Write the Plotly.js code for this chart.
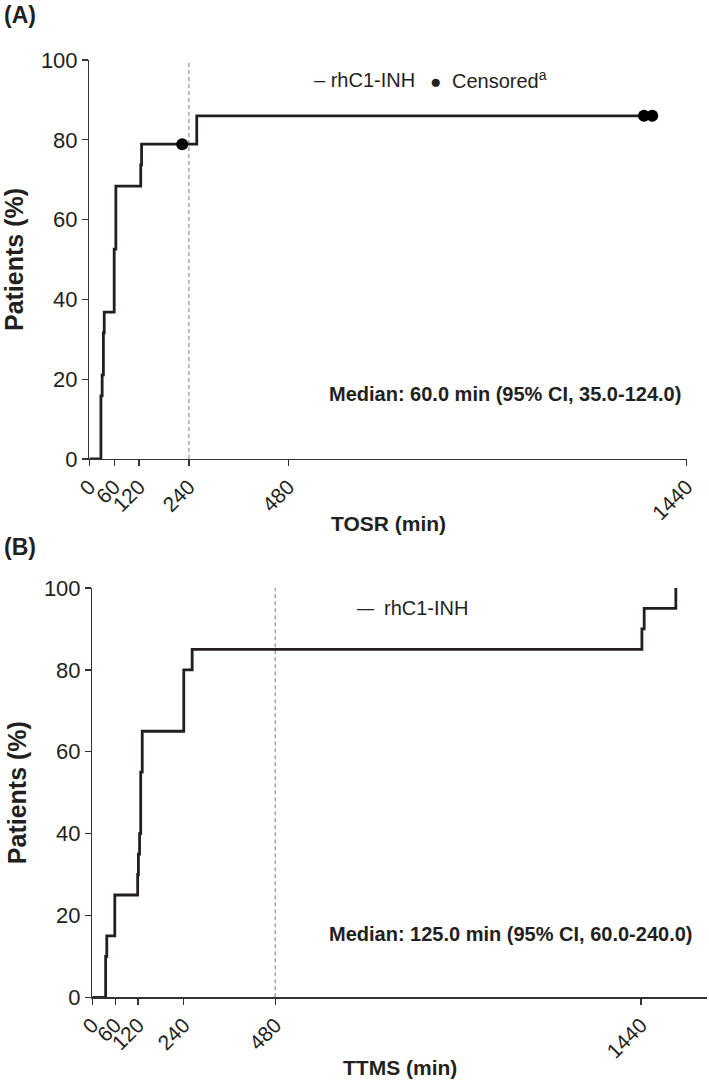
<!DOCTYPE html>
<html><head><meta charset="utf-8">
<script src="https://cdn.plot.ly/plotly-3.0.1.min.js"></script>
<style>html,body{margin:0;padding:0;background:#fff}</style>
</head><body><div id="chart" style="width:709px;height:1088px"></div>
<script>
// ---- data ----
const xTickVals = [0, 60, 120, 240, 480, 1440];
const xTickText = ['0', '60', '120', '240', '480', '1440'];
const yTickVals = [0, 20, 40, 60, 80, 100];

// Panel A: time to onset of symptom relief (TOSR), cumulative %
const tosrTime = [0, 28, 31, 34, 36, 60, 64, 124, 126, 259, 1337];
const tosrPct  = [0, 15.8, 21.1, 31.6, 36.8, 52.6, 68.4, 73.7, 78.9, 86.0, 86.0];
const tosrCensTime = [224, 1337, 1357];
const tosrCensPct  = [78.9, 86.0, 86.0];

// Panel B: time to minimal symptoms (TTMS), cumulative %
const ttmsTime = [0, 35, 38, 59, 119, 121, 124, 127, 131, 240, 262, 1442, 1448, 1531];
const ttmsPct  = [0, 10, 15, 25, 30, 35, 40, 55, 65, 80, 85, 90, 95, 100];

const refLineA = 240;
const refLineB = 480;
const rangeXA = [0, 1440];
const rangeXB = [0, 1612];

const FONT = 'Arial, "Liberation Sans", Helvetica, sans-serif';
const INK = '#231f20';
const W = 709, H = 1088;
const px = v => v / W;
const py = v => 1 - v / H;

const traces = [
  {x: [refLineA, refLineA], y: [0, 100], xaxis: 'x', yaxis: 'y', mode: 'lines',
   line: {color: '#9a9a9a', width: 1.3, dash: '4px,3px'}, showlegend: false, hoverinfo: 'skip'},
  {x: tosrTime, y: tosrPct, xaxis: 'x', yaxis: 'y', mode: 'lines', name: 'rhC1-INH',
   line: {color: INK, width: 2.8, shape: 'hv'}, showlegend: false},
  {x: tosrCensTime, y: tosrCensPct, xaxis: 'x', yaxis: 'y', mode: 'markers', name: 'Censored',
   marker: {color: '#000', size: 12}, showlegend: false, cliponaxis: false},
  {x: [refLineB, refLineB], y: [0, 100], xaxis: 'x2', yaxis: 'y2', mode: 'lines',
   line: {color: '#9a9a9a', width: 1.3, dash: '4px,3px'}, showlegend: false, hoverinfo: 'skip'},
  {x: ttmsTime, y: ttmsPct, xaxis: 'x2', yaxis: 'y2', mode: 'lines', name: 'rhC1-INH',
   line: {color: INK, width: 2.8, shape: 'hv'}, showlegend: false}
];

function xAxis(domain, range, anchor) {
  return {
    domain: domain, range: range, anchor: anchor,
    tickmode: 'array', tickvals: xTickVals, ticktext: xTickText, tickangle: -45,
    ticks: 'outside', ticklen: 6, tickwidth: 1.3, tickcolor: '#333',
    showline: true, linecolor: '#333', linewidth: 1.3,
    showgrid: false, zeroline: false,
    tickfont: {family: FONT, size: 21, color: INK},
    automargin: false, fixedrange: true
  };
}
function yAxis(domain, anchor) {
  return {
    domain: domain, range: [0, 100], anchor: anchor,
    tickmode: 'array', tickvals: yTickVals,
    ticks: 'outside', ticklen: 6, tickwidth: 1.3, tickcolor: '#333',
    showline: true, linecolor: '#333', linewidth: 1.3,
    showgrid: false, zeroline: false,
    tickfont: {family: FONT, size: 22, color: INK},
    title: {text: '<b>Patients (%)</b>', font: {family: FONT, size: 25, color: INK}, standoff: 10},
    automargin: false, fixedrange: true
  };
}

const ann = (x, y, text, size, opts) => Object.assign({
  xref: 'paper', yref: 'paper', x: px(x), y: py(y), text: text, showarrow: false,
  xanchor: 'left', yanchor: 'middle', font: {family: FONT, size: size, color: INK}
}, opts || {});

const layout = {
  width: W, height: H,
  margin: {l: 0, r: 0, t: 0, b: 0},
  paper_bgcolor: '#fff', plot_bgcolor: '#fff',
  font: {family: FONT, color: INK},
  xaxis: xAxis([px(89.3), px(686.7)], rangeXA, 'y'),
  yaxis: yAxis([py(459), py(60)], 'x'),
  xaxis2: xAxis([px(92.3), px(706.7)], rangeXB, 'y2'),
  yaxis2: yAxis([py(997.3), py(588)], 'x2'),
  annotations: [
    ann(2, 15, '<b>(A)</b>', 23),
    ann(2, 547, '<b>(B)</b>', 23),
    ann(312, 80, '– rhC1-INH', 20),
    ann(435, 81, '●', 19, {xanchor: 'center'}),
    ann(450, 79, 'Censored<sup>a</sup>', 20),
    ann(327, 394, '<b>Median: 60.0 min (95% CI, 35.0-124.0)</b>', 20),
    ann(388, 523, '<b>TOSR (min)</b>', 21, {xanchor: 'center'}),
    ann(365, 608, '—', 17, {xanchor: 'center'}),
    ann(381.5, 608, 'rhC1-INH', 20),
    ann(327, 934, '<b>Median: 125.0 min (95% CI, 60.0-240.0)</b>', 20),
    ann(399.5, 1067, '<b>TTMS (min)</b>', 21, {xanchor: 'center'})
  ]
};

Plotly.newPlot('chart', traces, layout, {displayModeBar: false, staticPlot: true});
</script></body></html>
